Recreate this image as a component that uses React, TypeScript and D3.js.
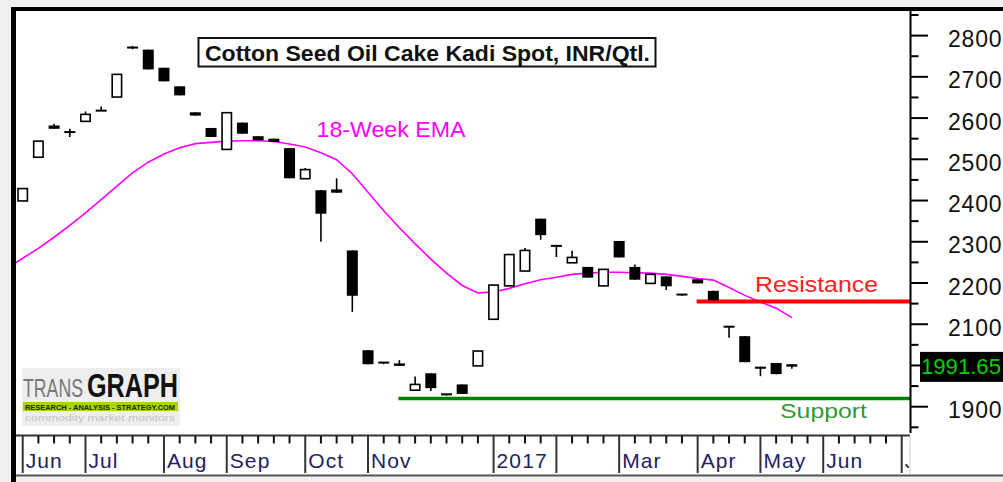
import React from "react";
import * as d3 from "d3";

// ---- Data (weekly candles, week index 0 = first week of Jun 2016) ----
const opens = [2399,2505,2582,2566,2592,2618,2651,2771,2766,2722,2677,2614,2576,2524,2589,2556,2550,2527,2453,2425,2427,2279,2037,2007,2005,1940,1981,1930,1954,1999,2112,2193,2229,2356,2290,2249,2239,2193,2302,2239,2199,2216,2172,2209,2181,2094,2071,1997,2006,2003];
const highs = [2429,2544,2586,2574,2616,2628,2706,2775,2766,2722,2677,2614,2576,2613,2589,2556,2550,2527,2479,2425,2454,2279,2037,2007,2013,1973,1981,1930,1954,2035,2195,2269,2285,2356,2290,2278,2239,2233,2302,2245,2221,2216,2172,2209,2181,2094,2071,1997,2006,2003];
const lows = [2399,2505,2574,2554,2592,2617,2651,2767,2718,2689,2655,2606,2554,2524,2562,2546,2542,2454,2453,2300,2419,2130,2003,2003,1999,1940,1938,1927,1931,1999,2112,2193,2229,2305,2263,2249,2213,2193,2262,2208,2199,2183,2169,2199,2158,2067,2008,1974,1979,1992];
const closes = [2429,2544,2574,2566,2609,2617,2706,2768,2718,2689,2655,2606,2554,2613,2562,2546,2542,2454,2475,2368,2419,2169,2003,2003,1999,1954,1945,1927,1931,2035,2195,2269,2279,2316,2286,2262,2213,2233,2262,2208,2221,2192,2169,2199,2158,2090,2008,1992,1979,1997];

// 18-week EMA, starting at week index -1
const emaStartIdx = -1;
const ema18 = [2236,2260,2284,2311,2340,2370,2402,2435,2467,2493,2513,2528,2538,2541,2544,2545,2545,2543,2537,2530,2516,2499,2465,2420,2375,2334,2295,2258,2224,2194,2176,2178,2187,2198,2208,2214,2221,2224,2226,2226,2225,2224,2221,2216,2211,2207,2189,2170,2154,2139,2116];

const resistanceLevel = 2155;
const resistanceStartIdx = 43;
const supportLevel = 1920;
const supportStartIdx = 24;
const lastPrice = 1991.65;

const yTicks = [1850,1900,1950,2000,2050,2100,2150,2200,2250,2300,2350,2400,2450,2500,2550,2600,2650,2700,2750,2800,2850];
// 2000 is hidden behind the last-price box in the reference
const yLabels = [1900,2100,2200,2300,2400,2500,2600,2700,2800];
const weekTickCount = 57;
const monthTickIdx = [0,4,9,13,18,22,30,34,38,43,47,51,56];
const monthLabels = ["Jun","Jul","Aug","Sep","Oct","Nov","2017","","Mar","Apr","May","Jun","Jul"];

const title = "Cotton Seed Oil Cake Kadi Spot, INR/Qtl.";
const FONT = "'Liberation Sans', Arial, sans-serif";

export default function App() {
  const W = 1003, H = 482;
  const plot = { left: 16, right: 910, top: 11, bottom: 435 };
  const x = d3.scaleLinear().domain([0, 56]).range([22.7, 901.7]);
  const y = d3.scaleLinear().domain([1900, 2800]).range([406.7, 35.6]);
  const bw = 11;

  const emaLine = d3
    .line<number>()
    .x((_, i) => x(emaStartIdx + i))
    .y((d) => y(d))(ema18) as string;

  const yl = y(lastPrice);

  return (
    <svg width={W} height={H} style={{ position: "absolute", left: 0, top: 0 }} fontFamily={FONT}>
      <defs>
        <clipPath id="plotClip">
          <rect x={plot.left} y={plot.top} width={plot.right - plot.left} height={plot.bottom - plot.top} />
        </clipPath>
        <clipPath id="xClip">
          <rect x={plot.left} y={plot.bottom} width={909 - plot.left} height={45} />
        </clipPath>
      </defs>
      <rect x={0} y={0} width={W} height={H} fill="#f0f0f0" />
      <rect x={11} y={7} width={W - 11} height={469} fill="#ffffff" />
      {/* frame */}
      <rect x={11} y={7} width={W - 11} height={4} fill="#000" />
      <rect x={11} y={7} width={5} height={H - 7} fill="#000" />
      <line x1={16} x2={W} y1={475.5} y2={475.5} stroke="#555" strokeWidth={2} />

      {/* logo */}
      <g>
        <rect x={22} y={368} width={158} height={58} fill="#eeeeee" />
        <text x={23} y={397}>
          <tspan fontSize={25} fill="#777" textLength={60} lengthAdjust="spacingAndGlyphs">TRANS</tspan>
          <tspan x={87} fontSize={33} fontWeight="bold" fill="#111" textLength={91} lengthAdjust="spacingAndGlyphs">GRAPH</tspan>
        </text>
        <rect x={23} y={402} width={155} height={9} fill="#a8d40c" />
        <text x={25} y={409.5} fontSize={8} fontWeight="bold" fill="#222" textLength={150} lengthAdjust="spacingAndGlyphs">RESEARCH - ANALYSIS - STRATEGY.COM</text>
        <text x={25} y={421} fontSize={9} fill="#c4c4c4" textLength={150} lengthAdjust="spacingAndGlyphs">commodity market monitors</text>
      </g>

      {/* title */}
      <rect x={198.5} y={38} width={457} height={28.5} fill="#fff" stroke="#111" strokeWidth={2} />
      <text x={205} y={61} fontSize={22} fontWeight="bold" fill="#111" textLength={445} lengthAdjust="spacingAndGlyphs">{title}</text>

      <g clipPath="url(#plotClip)">
        {/* EMA */}
        <path d={emaLine} fill="none" stroke="#ff00ff" strokeWidth={1.6} />
        {/* support / resistance */}
        <line x1={x(resistanceStartIdx) - 1} x2={plot.right} y1={y(resistanceLevel)} y2={y(resistanceLevel)} stroke="#ff0000" strokeWidth={4} />
        <line x1={x(supportStartIdx) - 1} x2={plot.right} y1={y(supportLevel)} y2={y(supportLevel)} stroke="#008000" strokeWidth={3.5} />
        {/* candles */}
        {opens.map((o, i) => {
          const c = closes[i];
          const up = c > o;
          const cx = x(i);
          const yTop = y(Math.max(o, c));
          const yBot = y(Math.min(o, c));
          const h = Math.max(yBot - yTop, 2);
          return (
            <g key={i}>
              <line x1={cx} x2={cx} y1={y(highs[i])} y2={y(lows[i])} stroke="#000" strokeWidth={1.6} />
              {up ? (
                <rect x={cx - bw / 2 + 0.8} y={yTop} width={bw - 1.6} height={h} fill="#fff" stroke="#000" strokeWidth={1.6} />
              ) : (
                <rect x={cx - bw / 2} y={yTop - (h > yBot - yTop ? 1 : 0)} width={bw} height={h} fill="#000" />
              )}
            </g>
          );
        })}
      </g>

      {/* annotations */}
      <text x={316.5} y={137.3} fontSize={22} fill="#ff00ff" textLength={149} lengthAdjust="spacingAndGlyphs">18-Week EMA</text>
      <text x={755} y={291.7} fontSize={22.5} fill="#ff2020" textLength={123} lengthAdjust="spacingAndGlyphs">Resistance</text>
      <text x={780} y={417.7} fontSize={20.5} fill="#339933" textLength={87} lengthAdjust="spacingAndGlyphs">Support</text>

      {/* right axis */}
      <line x1={910.5} x2={910.5} y1={plot.top} y2={433} stroke="#000" strokeWidth={2} />
      {yTicks.map((t) => {
        const major = t % 100 === 0;
        return <line key={t} x1={910.5} x2={major ? 928 : 918.5} y1={y(t)} y2={y(t)} stroke="#000" strokeWidth={2} />;
      })}
      {yLabels.map((t) => (
        <text key={t} x={948} y={y(t) + 11.5} fontSize={23} fill="#111" letterSpacing={0.8}>{t}</text>
      ))}
      <rect x={920} y={yl - 17} width={W - 920} height={30} fill="#000" />
      <text x={921} y={yl + 5} fontSize={22.5} fill="#00d000" textLength={80} lengthAdjust="spacingAndGlyphs">{lastPrice.toFixed(2)}</text>

      {/* x axis */}
      <line x1={plot.left} x2={910} y1={435.5} y2={435.5} stroke="#333" strokeWidth={2} />
      <line x1={910} x2={910} y1={435.5} y2={474} stroke="#ccc" strokeWidth={1} />
      {d3.range(weekTickCount).map((i) => {
        const major = monthTickIdx.includes(i);
        return <line key={i} x1={x(i)} x2={x(i)} y1={436} y2={major ? 473 : 443.5} stroke={major ? "#333" : "#111"} strokeWidth={2} />;
      })}
      <g clipPath="url(#xClip)">
        {monthTickIdx.map((idx, k) => (
          <text key={idx} x={x(idx) + 3} y={467.5} fontSize={21} fill="#262060" letterSpacing={1.1}>{monthLabels[k]}</text>
        ))}
      </g>
    </svg>
  );
}
